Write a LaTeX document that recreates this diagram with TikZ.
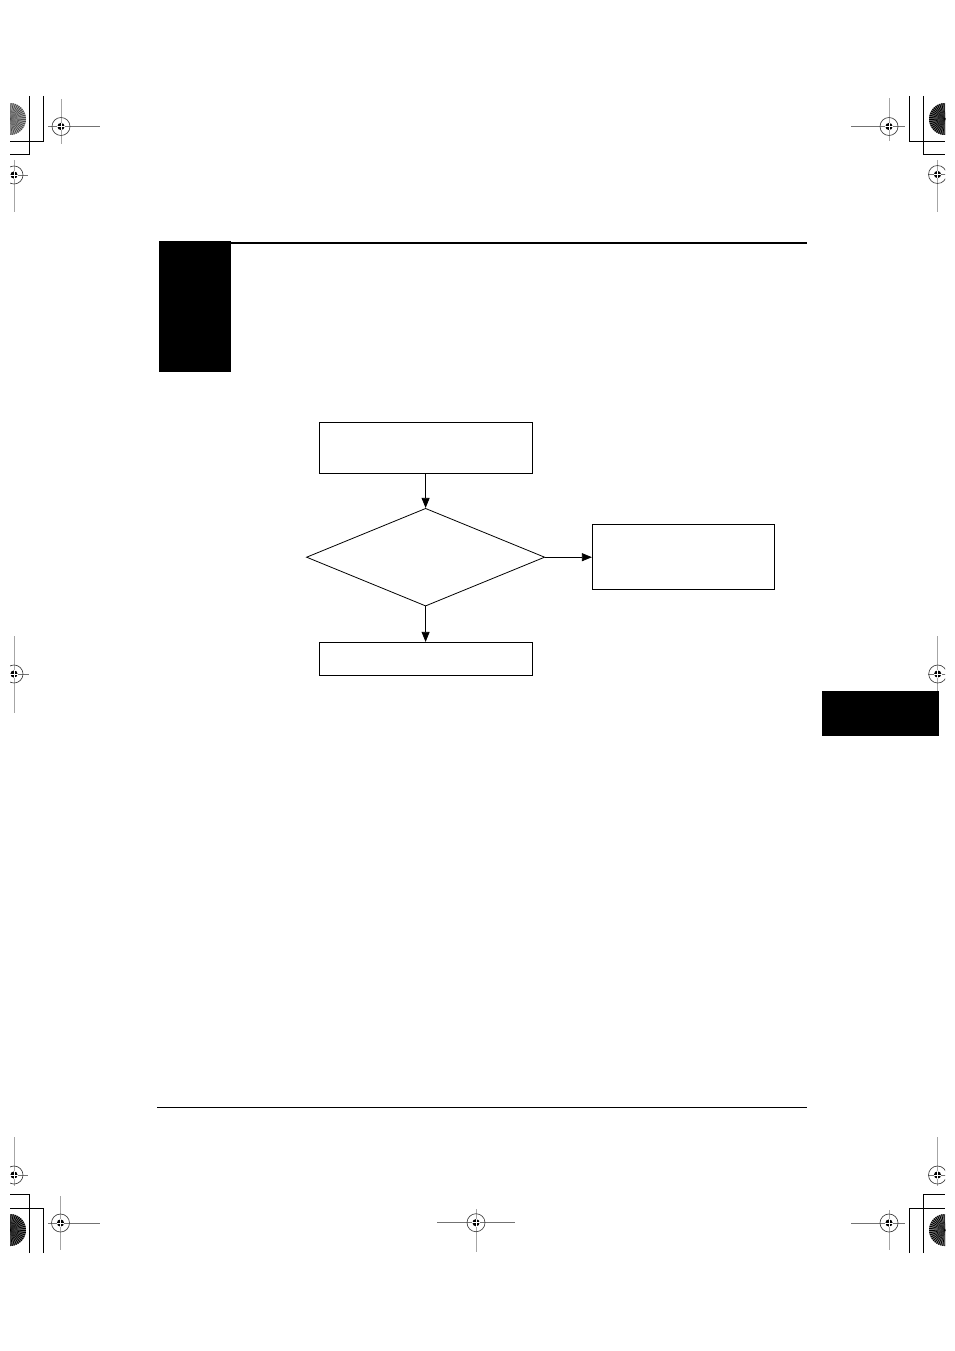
\documentclass[tikz,border=0pt]{standalone}
\usetikzlibrary{arrows.meta,shapes.geometric}

\newcommand{\regmark}[6]{%
  \draw[black!55,line width=0.6pt] (#3,#2) -- (#4,#2);
  \draw[black!35,line width=0.6pt] (#1,#5) -- (#1,#6);
  \draw[black!75,line width=0.5pt] (#1,#2) circle[radius=9];
  \fill (#1,#2) circle[radius=3.6];
  \draw[white,line width=0.55pt] (#1-3.8,#2) -- (#1+3.8,#2) (#1,#2-3.8) -- (#1,#2+3.8);
}
\newcommand{\sunburst}[4]{%
  \fill[#3] (#1,#2) circle[radius=16];
  \foreach \a in {0,8,...,352}
    \fill[#4] (#1,#2) -- ++(\a:16) arc[start angle=\a,end angle=\a+4,radius=16] -- cycle;
}

\tikzset{
  procbox/.style={draw,line width=0.6pt,inner sep=0pt,minimum width=159.75pt},
  decidebox/.style={draw,diamond,line width=0.6pt,inner sep=0pt,aspect=2.4},
  flow/.style={line width=0.6pt,-{Triangle[length=7.5pt,width=6pt]}},
  cropline/.style={line width=0.75pt}
}

\begin{document}
\begin{tikzpicture}[x=0.75pt,y=0.75pt,yscale=-1,xscale=1]
\useasboundingbox (0,0) rectangle (954,1351);
\begin{scope}
\clip (10,0) rectangle (945,1351);

%Sunbursts
\sunburst{10}{119}{black!30}{black!70}
\sunburst{945}{119}{black!55}{black}
\sunburst{10}{1230}{black!55}{black}
\sunburst{945}{1230}{black!45}{black}

%Crop marks
\draw[cropline] (43.3,96) -- (43.3,141.7) -- (10,141.7) ;
\draw[cropline] (29.3,96) -- (29.3,155) -- (10,155) ;
\draw[cropline] (909.3,96) -- (909.3,141.7) -- (945,141.7) ;
\draw[cropline] (923.3,96) -- (923.3,155) -- (945,155) ;
\draw[cropline] (29.3,1253) -- (29.3,1194.3) -- (10,1194.3) ;
\draw[cropline] (43.3,1253) -- (43.3,1208.3) -- (10,1208.3) ;
\draw[cropline] (923.3,1253) -- (923.3,1194.3) -- (945,1194.3) ;
\draw[cropline] (909.3,1253) -- (909.3,1208.3) -- (945,1208.3) ;

%Registration marks
\regmark{61}{126.5}{48}{100}{99}{144}
\regmark{889}{126.5}{851}{905}{98}{141}
\regmark{14}{175}{0}{28}{160}{212}
\regmark{937.5}{174.5}{928}{954}{160}{212}
\regmark{14}{674}{0}{29}{636}{713}
\regmark{937.7}{674}{928}{954}{636}{691}
\regmark{14}{1175}{0}{28}{1137}{1186}
\regmark{937.5}{1175}{928}{954}{1137}{1186}
\regmark{60.5}{1223}{48}{100}{1196}{1250}
\regmark{889}{1223}{851}{905}{1210}{1250}
\regmark{476}{1222.7}{437}{515}{1209}{1252}
\end{scope}

%Shape: Rectangle
\fill (159,241) rectangle (231,372) ;
%Straight Lines
\draw[line width=1.9pt] (159,243.2) -- (807,243.2) ;
%Straight Lines
\draw[line width=0.6pt] (157,1107.5) -- (807,1107.5) ;
%Shape: Rectangle
\fill (821.7,691) rectangle (939,735.7) ;

%Flowchart
\node[procbox,minimum height=38.25pt] (start) at (425.6,447.8) {};
\node[decidebox,minimum width=178.7pt,minimum height=73.3pt] (test) at (425.6,557.2) {};
\node[procbox,minimum width=136.5pt,minimum height=48.75pt] (fault) at (683.3,557.2) {};
\node[procbox,minimum height=24.75pt] (done) at (425.6,658.8) {};

\draw[flow] (start) -- (test) ;
\draw[flow] (test.east) -- (fault.west) ;
\draw[flow] (test) -- (done) ;

\end{tikzpicture}
\end{document}
